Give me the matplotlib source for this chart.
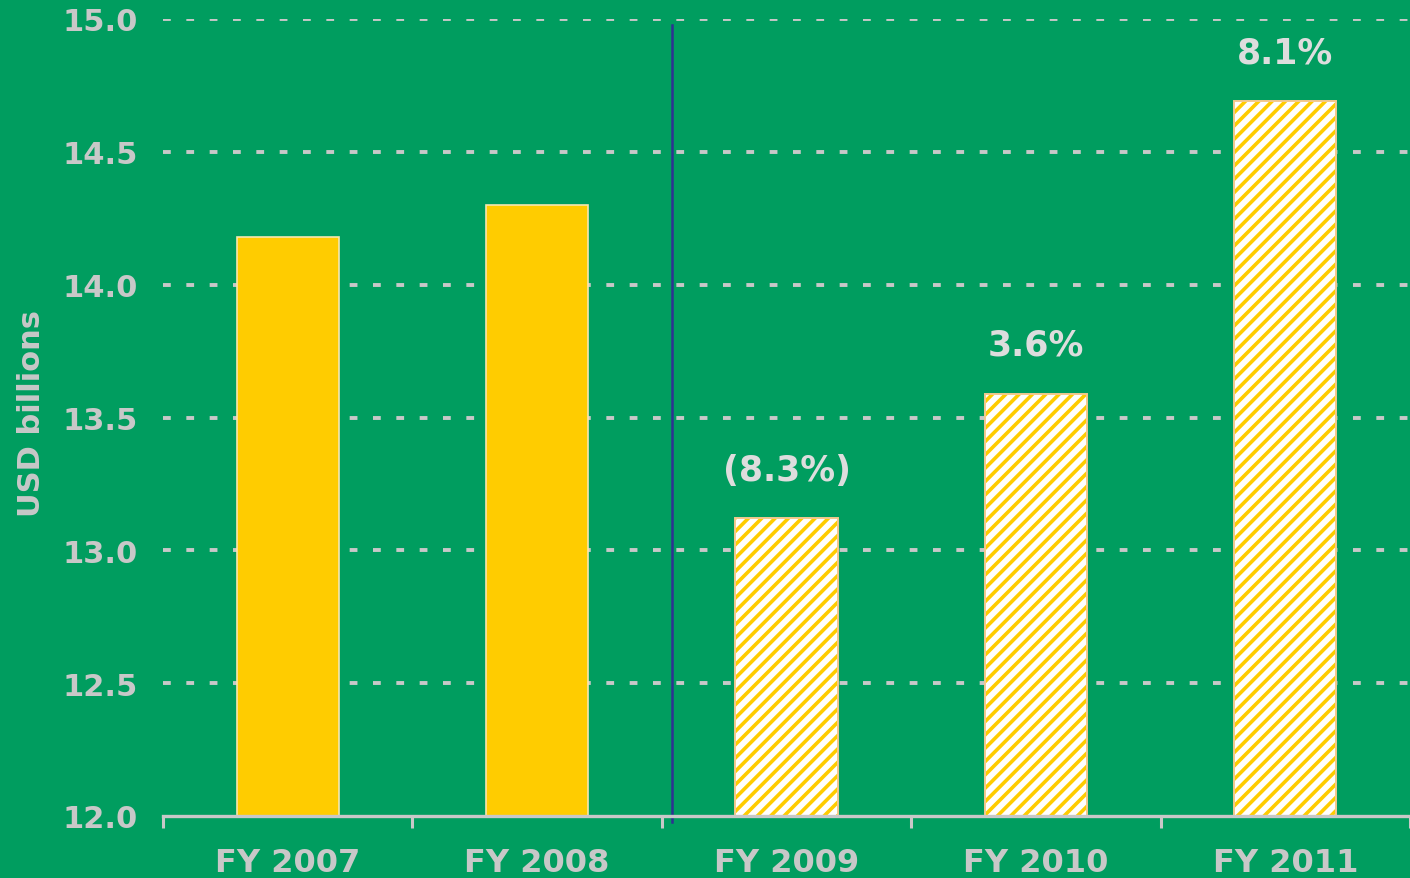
# -*- coding: utf-8 -*-
"""Bar chart of revenue, actual and forecast years, in USD billions."""
import matplotlib
matplotlib.use("Agg")
from matplotlib import pyplot as plt

# data
years = ["FY 2007", "FY 2008", "FY 2009", "FY 2010", "FY 2011"]
values = [14.18, 14.30, 13.12, 13.59, 14.69]
forecast = [False, False, True, True, True]
growth_labels = ["", "", "(8.3%)", "3.6%", "8.1%"]
y_ticks = [12.0, 12.5, 13.0, 13.5, 14.0, 14.5, 15.0]

green = "#009D5F"
yellow = "#FFCC00"
grey = "#C8C8C8"

# hatch density depends on dpi, so draw at 200 dpi on a half-size figure
fig = plt.figure(figsize=(7.05, 4.395), dpi=200, facecolor=green)
ax = fig.add_axes([163 / 1410, 1 - 817 / 879, 1 - 163 / 1410, (817 - 20) / 879])
ax.set_facecolor(green)
plt.rcParams["hatch.linewidth"] = 1.3

ind = list(range(len(years)))
width = 0.41
for i in ind:
    if forecast[i]:
        # white fill with yellow stripes, then a thin peach border on top
        ax.bar(i, values[i] - 12.0, width, bottom=12.0, color="white",
               edgecolor=yellow, hatch="/////", linewidth=0, zorder=2)
        ax.bar(i, values[i] - 12.0, width, bottom=12.0, fill=False,
               edgecolor="#F4C98E", linewidth=0.7, zorder=3)
    else:
        ax.bar(i, values[i] - 12.0, width, bottom=12.0, color=yellow,
               edgecolor="#F6E7B0", linewidth=0.6, zorder=2)
    if growth_labels[i]:
        ax.annotate(growth_labels[i], (i, values[i]), xytext=(0, 14),
                    textcoords="offset points", ha="center", va="baseline",
                    fontsize=12.5, fontweight="bold", color="#DDDDDD")

# divider between actual and forecast years
ax.axvline(1.54, ymin=-0.007, ymax=0.992, color="#2E3192", linewidth=0.9,
           clip_on=False, zorder=4)

ax.set_xlim(-0.5, 4.5)
ax.set_ylim(12.0, 15.0)
ax.set_yticks(y_ticks)
ax.set_yticklabels(["%.1f" % v for v in y_ticks])
ax.tick_params(axis="y", length=0, pad=9, labelsize=11, labelcolor=grey)
for lab in ax.get_yticklabels():
    lab.set_fontweight("bold")

# boundary ticks below the axis, labels centred under bars
ax.set_xticks([i - 0.5 for i in ind] + [4.5])
ax.set_xticklabels([])
ax.set_xticks(ind, minor=True)
ax.set_xticklabels(years, minor=True, fontsize=11.5, fontweight="bold", color=grey)
ax.tick_params(axis="x", which="major", direction="out", length=4.3, width=1.1, color=grey)
ax.tick_params(axis="x", which="minor", length=0, pad=11)

ax.grid(axis="y", color=grey, linewidth=1.4, linestyle=(0, (2, 4)))
ax.grid(axis="x", visible=False)
ax.get_ygridlines()[0].set_visible(False)
ax.set_axisbelow(True)
for side in ["left", "right", "top"]:
    ax.spines[side].set_visible(False)
ax.spines["bottom"].set_color(grey)
ax.spines["bottom"].set_linewidth(1.2)
ax.spines["bottom"].set_zorder(5)

fig.text(32 / 1410, 1 - 517 / 879, "USD billions", rotation=90, ha="center",
         va="bottom", fontsize=11, fontweight="bold", color=grey)

fig.savefig("out.png", dpi=200, facecolor=green)
